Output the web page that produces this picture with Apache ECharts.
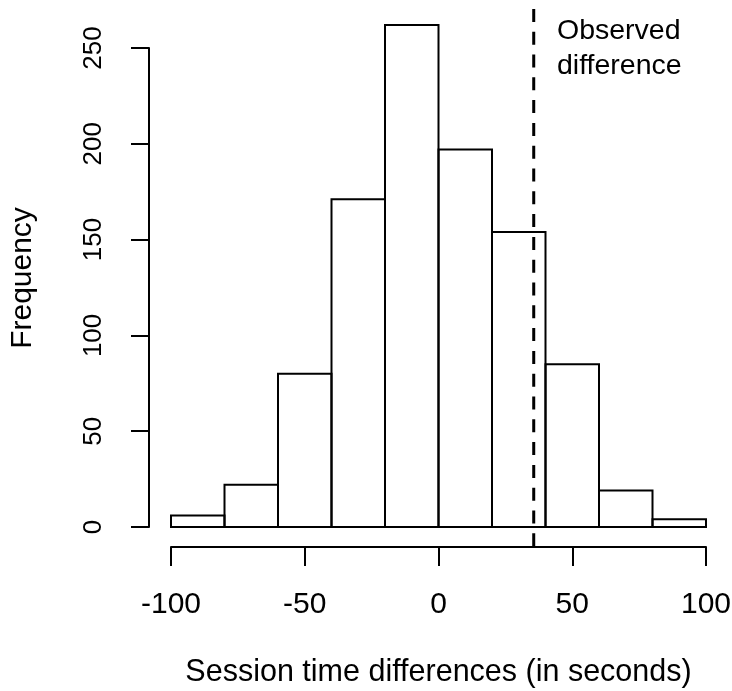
<!DOCTYPE html>
<html>
<head>
<meta charset="utf-8">
<script src="https://cdn.jsdelivr.net/npm/echarts@6/dist/echarts.min.js"></script>
<style>
  html, body { margin: 0; padding: 0; background: #fff; }
  #chart { width: 732px; height: 691px; }
</style>
</head>
<body>
<div id="chart"></div>
<script>
// 直方图数据：每个区间的左右边界和频数
var binStarts = [-100, -80, -60, -40, -20, 0, 20, 40, 60, 80];
var binEnds   = [-80, -60, -40, -20, 0, 20, 40, 60, 80, 100];
var counts    = [6, 22, 80, 171, 262, 197, 154, 85, 19, 4];

// 观测差值（虚线位置）
var observedDiff = [35.6];
var observedText = ["Observed", "difference"];

// 坐标轴刻度
var xTicks = [-100, -50, 0, 50, 100];
var yTicks = [0, 50, 100, 150, 200, 250];

// 绘图区纵向范围（虚线从上到下贯穿）
var yPlotRange = [-10.4, 270.4];

var FONT = '"Liberation Sans", Arial, Helvetica, sans-serif';

var chart = echarts.init(document.getElementById('chart'), null, { renderer: 'canvas' });

var barData = binStarts.map(function (s, i) {
    return [s, binEnds[i], counts[i]];
});

var option = {
    backgroundColor: '#fff',
    animation: false,
    grid: { left: 171, right: 26, top: 48, bottom: 164, containLabel: false, outerBoundsMode: 'none' },
    xAxis: {
        type: 'value',
        min: xTicks[0],
        max: xTicks[xTicks.length - 1],
        interval: 50,
        offset: 20,
        splitLine: { show: false },
        axisLine: { show: true, onZero: false, lineStyle: { color: '#000', width: 2 } },
        axisTick: { show: true, length: 19, lineStyle: { color: '#000', width: 2 } },
        axisLabel: { color: '#000', fontSize: 30, fontFamily: FONT, margin: 43 },
        name: 'Session time differences (in seconds)',
        nameLocation: 'middle',
        nameGap: 110,
        nameTextStyle: { color: '#000', fontSize: 30.5, fontFamily: FONT }
    },
    yAxis: {
        type: 'value',
        min: yTicks[0],
        max: yTicks[yTicks.length - 1],
        interval: 50,
        offset: 22,
        splitLine: { show: false },
        axisLine: { show: true, onZero: false, lineStyle: { color: '#000', width: 2 } },
        axisTick: { show: true, length: 18, lineStyle: { color: '#000', width: 2 } },
        axisLabel: { color: '#000', fontSize: 26, fontFamily: FONT, rotate: 90, margin: 42 }
    },
    series: [
        {
            type: 'custom',
            clip: false,
            data: barData,
            renderItem: function (params, api) {
                var p0 = api.coord([api.value(0), api.value(2)]);
                var p1 = api.coord([api.value(1), 0]);
                return {
                    type: 'rect',
                    shape: { x: p0[0], y: p0[1], width: p1[0] - p0[0], height: p1[1] - p0[1] },
                    style: { fill: 'none', stroke: '#000', lineWidth: 2 }
                };
            }
        },
        {
            // 虚线：观测差值
            type: 'custom',
            clip: false,
            z: 5,
            data: observedDiff,
            renderItem: function (params, api) {
                var top = api.coord([api.value(0), yPlotRange[1]]);
                var bot = api.coord([api.value(0), yPlotRange[0]]);
                return {
                    type: 'line',
                    shape: { x1: top[0], y1: top[1], x2: bot[0], y2: bot[1] },
                    style: { stroke: '#000', lineWidth: 3, lineDash: [13, 9.8] }
                };
            }
        }
    ],
    graphic: [
        {
            type: 'text',
            left: 557,
            top: 14,
            style: {
                text: observedText.join('\n'),
                fill: '#000',
                font: '28.5px ' + FONT,
                lineHeight: 35
            }
        },
        {
            // y 轴标题，居中于绘图区
            type: 'text',
            x: 23,
            y: 278,
            rotation: Math.PI / 2,
            style: {
                text: 'Frequency',
                fill: '#000',
                font: '30px ' + FONT,
                align: 'center',
                verticalAlign: 'middle'
            }
        }
    ]
};

chart.setOption(option);
</script>
</body>
</html>
